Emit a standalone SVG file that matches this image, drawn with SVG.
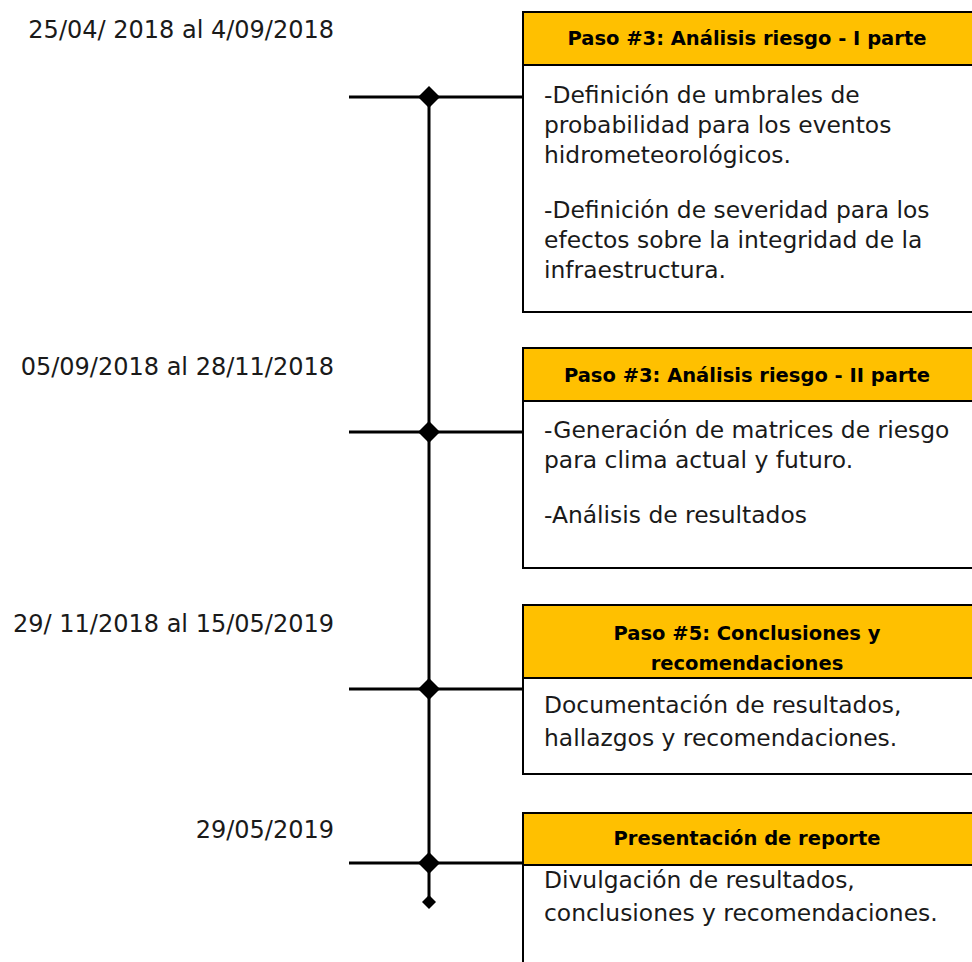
<svg xmlns="http://www.w3.org/2000/svg" width="972" height="962" viewBox="0 0 972 962">
<style>
.hdr{fill:#FFC000;stroke:#000;stroke-width:2}
.body{fill:#fff;stroke:#000;stroke-width:2}
.ht{font-family:"DejaVu Sans",sans-serif;font-weight:bold;font-size:19.5px;fill:#000;text-anchor:middle}
.bt{font-family:"DejaVu Sans",sans-serif;font-size:23.4px;fill:#1a1a1a}
.dt{font-family:"DejaVu Sans",sans-serif;font-size:24px;fill:#1a1a1a;text-anchor:end}
.ln{stroke:#000;stroke-width:3;fill:none}
.dm{fill:#000}
</style>
<rect width="972" height="962" fill="#fff"/>
<g id="connectors">
<line class="ln" x1="429" y1="97" x2="429" y2="902"/>
<line class="ln" x1="349" y1="97" x2="523" y2="97"/>
<line class="ln" x1="349" y1="432" x2="523" y2="432"/>
<line class="ln" x1="349" y1="689" x2="523" y2="689"/>
<line class="ln" x1="349" y1="863" x2="523" y2="863"/>
<polygon class="dm" points="429,86 440,97 429,108 418,97"/>
<polygon class="dm" points="429,421 440,432 429,443 418,432"/>
<polygon class="dm" points="429,678 440,689 429,700 418,689"/>
<polygon class="dm" points="429,852 440,863 429,874 418,863"/>
<polygon class="dm" points="429,895 436,902 429,909 422,902"/>
</g>
<g id="date1"><text class="dt" x="334" y="38">25/04/ 2018 al 4/09/2018</text></g>
<g id="date2"><text class="dt" x="334" y="375">05/09/2018 al 28/11/2018</text></g>
<g id="date3"><text class="dt" x="334" y="632">29/ 11/2018 al 15/05/2019</text></g>
<g id="date4"><text class="dt" x="334" y="838">29/05/2019</text></g>
<g id="step1">
<rect class="body" x="523" y="65" width="460" height="247"/>
<rect class="hdr" x="523" y="12" width="460" height="53"/>
<text class="ht" x="747" y="45">Paso #3: Análisis riesgo - I parte</text>
<text class="bt" x="544" y="103">-Definición de umbrales de</text>
<text class="bt" x="544" y="133">probabilidad para los eventos</text>
<text class="bt" x="544" y="163">hidrometeorológicos.</text>
<text class="bt" x="544" y="218">-Definición de severidad para los</text>
<text class="bt" x="544" y="248">efectos sobre la integridad de la</text>
<text class="bt" x="544" y="278">infraestructura.</text>
</g>
<g id="step2">
<rect class="body" x="523" y="401" width="460" height="167"/>
<rect class="hdr" x="523" y="348" width="460" height="53"/>
<text class="ht" x="747" y="382">Paso #3: Análisis riesgo - II parte</text>
<text class="bt" x="544" y="438">-Generación de matrices de riesgo</text>
<text class="bt" x="544" y="468">para clima actual y futuro.</text>
<text class="bt" x="544" y="523">-Análisis de resultados</text>
</g>
<g id="step3">
<rect class="body" x="523" y="678" width="460" height="96"/>
<rect class="hdr" x="523" y="605" width="460" height="73"/>
<text class="ht" x="747" y="640">Paso #5: Conclusiones y</text>
<text class="ht" x="747" y="670">recomendaciones</text>
<text class="bt" x="544" y="713">Documentación de resultados,</text>
<text class="bt" x="544" y="746">hallazgos y recomendaciones.</text>
</g>
<g id="step4">
<rect class="body" x="523" y="865" width="460" height="110"/>
<rect class="hdr" x="523" y="813" width="460" height="52"/>
<text class="ht" x="747" y="845">Presentación de reporte</text>
<text class="bt" x="544" y="888">Divulgación de resultados,</text>
<text class="bt" x="544" y="921">conclusiones y recomendaciones.</text>
</g>
</svg>
